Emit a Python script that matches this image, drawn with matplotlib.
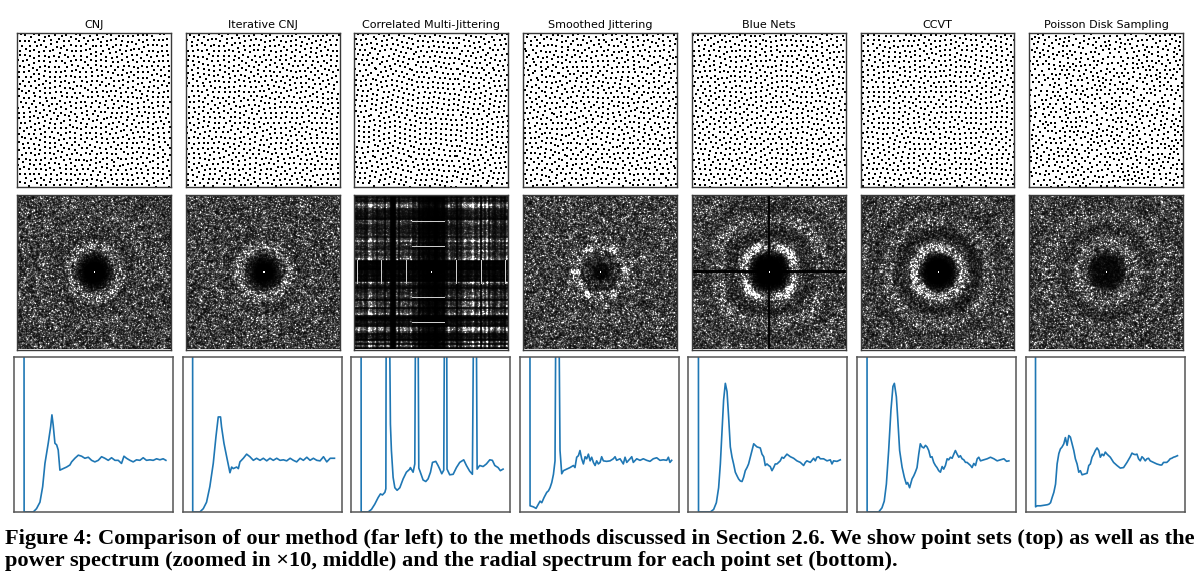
import numpy as np
import matplotlib
matplotlib.use("Agg")
import matplotlib.pyplot as plt

methods = ["CNJ", "Iterative CNJ", "Correlated Multi-Jittering", "Smoothed Jittering",
           "Blue Nets", "CCVT", "Poisson Disk Sampling"]

# radial spectra (radial frequency 0..100, power; first point is the DC spike)
cnj_freq = [0, 0.6, 7.0, 9.3, 11.7, 13.6, 15.2, 17.5, 19.2, 20.1, 21.0, 22.2, 23.4, 24.5, 25.7, 28.0,
            30.4, 32.7, 33.9, 36.2, 38.6, 40.9, 43.2, 45.6, 47.9, 50.2, 52.6, 54.9, 57.2, 59.6, 61.9,
            64.3, 66.6, 68.9, 70.6, 72.4, 74.8, 77.1, 79.4, 81.8, 84.1, 86.4, 88.8, 91.1, 93.5, 95.8,
            98.1, 100]
cnj_power = [30, 0, 0, 0.065, 0.19, 0.49, 0.94, 1.33, 1.65, 1.88, 1.68, 1.33, 1.30, 1.20, 0.81, 0.84,
             0.87, 0.91, 0.97, 1.04, 1.10, 1.08, 1.04, 1.06, 1.00, 0.97, 1.00, 1.07, 1.04, 1.00, 1.05,
             1.00, 1.00, 0.94, 1.08, 1.04, 1.00, 0.97, 1.01, 1.00, 1.05, 1.00, 1.01, 1.00, 1.03, 1.01,
             1.03, 1.00]

icnj_freq = [0, 0.6, 5.6, 8.0, 10.3, 12.6, 15.0, 16.9, 18.5, 20.1, 20.8, 22.5, 24.4, 26.7, 27.9, 29.0,
             31.4, 32.6, 33.7, 36.1, 38.4, 40.7, 43.1, 45.4, 47.8, 50.1, 52.5, 54.8, 57.1, 59.5, 61.8,
             64.2, 66.5, 68.9, 71.2, 73.5, 75.9, 78.2, 80.6, 82.9, 85.2, 87.6, 89.9, 92.3, 94.6, 97.0, 100]
icnj_power = [30, 0, 0, 0.065, 0.19, 0.49, 0.94, 1.46, 1.84, 1.84, 1.65, 1.33, 1.07, 0.76, 0.87, 0.84,
              0.87, 0.84, 0.97, 1.04, 1.12, 1.07, 1.00, 1.04, 1.00, 1.04, 0.99, 1.04, 1.00, 1.04, 1.00,
              1.01, 0.99, 1.04, 1.00, 0.97, 1.04, 1.00, 1.06, 1.00, 1.04, 1.00, 0.99, 1.07, 0.97, 1.04, 1.04]

cmj_freq = [0, 0.5, 5.4, 7.7, 10.0, 12.4, 14.0, 15.4, 17.1, 17.8, 18.2, 19.6, 20.3, 21.0, 21.7, 22.9,
            24.1, 25.7, 27.6, 29.9, 32.2, 34.6, 35.0, 36.9, 38.1, 39.0, 40.0, 40.9, 41.6, 43.9, 45.8,
            47.4, 49.1, 50.5, 52.8, 54.4, 55.6, 57.0, 58.4, 59.3, 60.3, 60.7, 62.6, 65.0, 67.3, 69.6,
            72.4, 74.3, 76.6, 78.5, 79.9, 80.8, 81.8, 83.6, 86.0, 88.3, 90.7, 92.5, 94.2, 96.5, 98.1, 100]
cmj_power = [30, 0, 0, 0.05, 0.15, 0.28, 0.35, 0.33, 0.38, 0.45, 6, 6, 4, 1.7, 1.19, 0.67,
             0.47, 0.42, 0.47, 0.64, 0.77, 0.83, 0.86, 0.77, 0.93, 6, 6, 0.85, 0.80, 0.62, 0.59,
             0.64, 0.77, 0.96, 0.98, 0.90, 0.83, 0.74, 0.81, 6, 6, 0.83, 0.72, 0.73, 0.86, 0.96,
             1.01, 0.90, 0.79, 0.73, 6, 6, 0.83, 0.90, 0.88, 0.93, 1.01, 1.00, 0.90, 0.86, 0.80, 0.83]

sj_freq = [0, 0.7, 3.0, 4.9, 6.5, 7.7, 8.9, 10.5, 12.4, 13.6, 14.7, 15.9, 17.1, 18.2, 19.2, 20.3,
           21.7, 22.9, 24.1, 26.4, 28.7, 31.1, 32.2, 33.4, 34.6, 35.7, 36.9, 38.1, 39.3, 40.4, 41.6,
           42.8, 43.9, 45.1, 46.3, 47.4, 48.6, 49.8, 50.9, 52.1, 54.4, 56.8, 59.1, 60.3, 61.4, 63.8,
           66.1, 67.3, 68.5, 70.8, 72.0, 73.1, 75.5, 77.8, 80.1, 82.5, 84.8, 87.1, 89.5, 91.8, 94.2,
           96.5, 97.7, 98.8, 100]
sj_power = [30, 0.12, 0.10, 0.07, 0.15, 0.21, 0.18, 0.28, 0.38, 0.41, 0.47, 0.57, 0.73, 0.99, 6, 6,
            1.19, 0.74, 0.80, 0.83, 0.86, 0.90, 0.86, 1.06, 1.09, 1.19, 1.03, 0.93, 1.07, 1.03, 1.12,
            0.99, 1.06, 0.96, 0.90, 0.99, 0.93, 0.96, 1.07, 0.99, 0.98, 0.99, 1.03, 1.07, 1.00, 1.03,
            0.93, 1.06, 0.96, 1.03, 1.07, 0.96, 1.03, 1.00, 1.03, 1.00, 0.98, 1.03, 1.05, 1.00, 1.01,
            1.00, 1.06, 0.96, 1.00]

bn_freq = [0, 0.6, 8.9, 11.2, 13.1, 14.7, 15.9, 17.1, 18.2, 19.4, 20.6, 21.7, 22.9, 24.1, 25.2, 26.4,
           27.6, 28.7, 29.9, 31.1, 32.2, 33.4, 34.6, 35.7, 36.9, 38.1, 39.3, 40.4, 41.6, 43.9, 45.1,
           46.3, 47.4, 48.6, 49.8, 50.9, 52.1, 53.3, 54.4, 55.6, 57.9, 59.1, 60.3, 62.6, 65.0, 67.3,
           69.6, 72.0, 74.3, 75.5, 76.6, 79.0, 81.3, 82.5, 83.6, 84.8, 86.0, 88.3, 90.7, 93.0, 94.2,
           95.3, 97.7, 100]
bn_power = [30, 0, 0, 0.05, 0.18, 0.47, 0.93, 1.58, 2.17, 2.49, 2.33, 1.84, 1.26, 1.06, 0.93, 0.77,
            0.70, 0.64, 0.60, 0.59, 0.67, 0.80, 0.86, 0.93, 1.06, 1.19, 1.32, 1.29, 1.26, 1.24, 1.12,
            1.07, 0.90, 0.93, 0.90, 0.88, 0.80, 0.86, 0.93, 0.93, 0.99, 1.06, 1.04, 1.12, 1.07, 1.04,
            0.99, 0.96, 0.90, 0.96, 0.99, 0.96, 1.04, 0.99, 1.06, 1.07, 1.03, 1.03, 0.99, 1.01, 0.93,
            0.99, 0.98, 1.01]

ccvt_freq = [0, 0.6, 8.7, 11.0, 12.6, 14.1, 15.7, 17.3, 18.7, 19.7, 21.1, 22.0, 23.4, 25.1, 26.7, 28.1,
             29.0, 30.4, 32.1, 33.3, 34.4, 35.6, 36.8, 37.9, 39.1, 40.3, 41.5, 42.6, 43.8, 45.0, 46.1,
             47.3, 48.5, 49.6, 50.8, 52.0, 53.2, 54.3, 55.5, 56.7, 57.8, 59.0, 60.2, 61.4, 62.5, 63.7,
             64.9, 66.0, 67.2, 68.4, 69.6, 70.7, 73.1, 74.2, 75.4, 76.6, 77.8, 78.9, 80.1, 82.4, 84.8,
             87.1, 89.5, 91.8, 94.1, 96.5, 98.4, 100]
ccvt_power = [30, 0, 0, 0.08, 0.21, 0.54, 1.19, 1.97, 2.43, 2.49, 2.23, 1.84, 1.19, 0.87, 0.67, 0.54,
              0.57, 0.47, 0.64, 0.70, 0.77, 0.86, 1.12, 1.32, 1.26, 1.24, 1.29, 1.26, 1.19, 1.06, 1.07,
              0.96, 0.90, 0.86, 0.80, 0.77, 0.88, 0.83, 0.90, 1.03, 1.01, 1.06, 1.04, 1.12, 1.19, 1.12,
              1.06, 1.09, 1.03, 1.01, 0.96, 0.96, 0.90, 0.86, 0.94, 0.90, 1.03, 1.06, 0.99, 1.01, 1.03,
              1.06, 1.03, 0.99, 1.01, 1.03, 0.98, 0.99]

pds_freq = [0, 0.5, 1.6, 4.0, 6.3, 8.6, 9.8, 11.0, 12.1, 13.3, 14.5, 15.6, 16.8, 17.9, 19.1, 20.3,
            21.4, 22.6, 23.8, 24.9, 26.1, 27.3, 28.4, 29.6, 30.8, 31.9, 33.1, 34.3, 36.6, 37.8, 38.9,
            40.1, 41.3, 42.4, 43.6, 44.8, 45.9, 47.1, 48.3, 49.4, 50.6, 52.9, 55.2, 57.6, 59.9, 62.2,
            64.6, 66.9, 68.1, 69.2, 70.4, 71.6, 72.7, 73.9, 75.1, 76.2, 77.4, 78.6, 79.7, 80.9, 83.2,
            85.5, 87.9, 89.0, 90.2, 92.5, 93.7, 94.9, 96.0, 97.2, 98.4, 100]
pds_power = [30, 0.10, 0.12, 0.12, 0.13, 0.14, 0.15, 0.18, 0.28, 0.38, 0.54, 0.93, 1.13, 1.22, 1.26, 1.32,
             1.44, 1.29, 1.48, 1.45, 1.32, 1.19, 1.03, 0.93, 0.77, 0.80, 0.72, 0.73, 0.75, 0.90, 0.93,
             1.06, 1.12, 1.19, 1.24, 1.19, 1.06, 1.12, 1.09, 1.16, 1.12, 1.06, 0.96, 0.90, 0.85, 0.86,
             0.96, 1.07, 1.14, 1.12, 1.11, 1.12, 1.03, 0.99, 1.07, 1.04, 0.99, 1.03, 1.04, 0.99, 0.96,
             0.93, 0.91, 0.91, 0.96, 0.96, 0.99, 1.03, 1.04, 1.06, 1.07, 1.09]

radial = [(cnj_freq, cnj_power), (icnj_freq, icnj_power), (cmj_freq, cmj_power), (sj_freq, sj_power),
          (bn_freq, bn_power), (ccvt_freq, ccvt_power), (pds_freq, pds_power)]

caption = ["Figure 4: Comparison of our method (far left) to the methods discussed in Section 2.6. "
           "We show point sets (top) as well as the",
           "power spectrum (zoomed in \u00d710, middle) and the radial spectrum for each point set (bottom)."]

N_SIDE = 30      # 30 x 30 samples per point set
IMG = 154        # spectrum image resolution = displayed pixels
PX_PER_FREQ = 1.27


# ---- point set textures (too dense to read point by point; generated with fixed seeds)
def relaxed(seed, iters):
    rng = np.random.default_rng(seed)
    g = (np.arange(N_SIDE) + 0.5) / N_SIDE
    X, Y = np.meshgrid(g, g)
    p = np.c_[X.ravel(), Y.ravel()] + (rng.random((N_SIDE ** 2, 2)) - 0.5) / N_SIDE
    sig = 0.7 / N_SIDE
    for _ in range(iters):
        d = p[:, None, :] - p[None, :, :]
        d -= np.round(d)
        w = np.exp(-(d ** 2).sum(-1) / (2 * sig * sig))
        p = (p + 0.3 * (d * w[..., None]).sum(1)) % 1.0
    return p


def cmj(seed):
    rng = np.random.default_rng(seed)
    m = N_SIDE
    sx = rng.permutation(m)
    sy = rng.permutation(m)
    i, j = np.meshgrid(np.arange(m), np.arange(m))
    i, j = i.ravel(), j.ravel()
    x = (i + (sy[j] + rng.random(i.size)) / m) / m
    y = (j + (sx[i] + rng.random(i.size)) / m) / m
    return np.c_[x, y]


def dart(seed, rmin=0.0265):
    rng = np.random.default_rng(seed)
    pts = np.empty((0, 2))
    while len(pts) < N_SIDE ** 2:
        c = rng.random(2)
        if len(pts):
            d = pts - c
            d -= np.round(d)
            if ((d ** 2).sum(1) < rmin * rmin).any():
                continue
        pts = np.vstack([pts, c])
    return pts


point_sets = [relaxed(1, 12), relaxed(2, 20), cmj(3), relaxed(4, 6),
              relaxed(5, 16), relaxed(6, 30), dart(7)]


# ---- spectrum images: speckle shaped by the radial spectrum read above
c = np.arange(IMG) - IMG // 2          # pixel offsets from the centre
FX, FY = np.meshgrid(c, c)
R = np.hypot(FX, FY)
TH = np.arctan2(FY, FX)
KERNEL = np.array([0.12, 0.76, 0.12])


def soften(img):
    img = np.apply_along_axis(lambda r: np.convolve(r, KERNEL, "same"), 1, img)
    return np.apply_along_axis(lambda r: np.convolve(r, KERNEL, "same"), 0, img)


def profile(k, radius, cap=None):
    f = np.array(radial[k][0][1:])
    p = np.array(radial[k][1][1:])
    if cap is not None:
        p = np.minimum(p, cap)
    return np.interp(radius / PX_PER_FREQ, f, p)


def spectrum(k, rng):
    speck = rng.exponential(1.0, (IMG, IMG))
    name = methods[k]
    if name == "Correlated Multi-Jittering":
        a = np.minimum(np.repeat(rng.exponential(1.0, IMG // 2 + 1), 2)[:IMG], 3.0)
        b = np.minimum(np.repeat(rng.exponential(1.0, IMG // 2 + 1), 2)[:IMG], 3.0)
        img = 0.75 * np.outer(b, a) * (0.4 + 0.6 * speck)
        img[np.abs(FX) < 14] *= 0.08
        img[np.abs(FY) < 10] *= 0.08
        img = soften(img)
        for off in (-50, -25, 25, 50):
            img[(FY == off) & (FX > -20) & (FX < 14)] = 2.9
        for off in (-74, -50, -25, 25, 50, 74):
            img[(FX == off) & (np.abs(FY) < 12)] = 2.9
    elif name == "Smoothed Jittering":
        prof = profile(k, R, cap=1.15)
        a = 12.6
        for u in range(-4, 5):
            for v in range(-4, 5):
                px, py = u * a + v * a / 2, v * a * np.sqrt(3) / 2
                rr = np.hypot(px, py)
                if rr < 5 or rr > 35:
                    continue
                amp = 2.4 if abs(rr - 25.2) < 1 else (1.2 if abs(rr - 21.8) < 1 else 0.7)
                prof = prof + amp * np.exp(-((FX - px) ** 2 + (FY - py) ** 2) / (2 * 3.0 ** 2))
        img = soften(prof * speck)
    elif name == "Blue Nets":
        reff = (np.abs(FX) ** 2.6 + np.abs(FY) ** 2.6) ** (1 / 2.6)
        prof = profile(k, reff)
        boost = 0.5 + 1.6 * np.sin(2 * TH) ** 2
        prof = np.where(prof > 1, 1 + (prof - 1) * boost, prof)
        img = soften(prof * speck)
        img[(FY == 0) | (FY == -1)] *= 0.05
        img[:, (c == 0) | (c == -1)] *= 0.05
    else:
        img = soften(profile(k, R) * speck)
    img[IMG // 2, IMG // 2] = 10
    return img


rng = np.random.default_rng(11)
spectra = [spectrum(k, rng) for k in range(len(methods))]

# ---- figure
fig = plt.figure(figsize=(12, 5.81), dpi=100)
W, H = 1200.0, 581.0


def frame(ax, color, lw):
    ax.set_xticks([])
    ax.set_yticks([])
    for s in ax.spines.values():
        s.set_color(color)
        s.set_linewidth(lw)


for k, name in enumerate(methods):
    # point set
    ax = fig.add_axes([(17 + k * 168.7) / W, (H - 187) / H, 154 / W, 154 / H])
    pts = point_sets[k]
    ax.scatter(pts[:, 0], pts[:, 1], s=1.3, marker="s", c="k", linewidths=0)
    ax.set_xlim(0, 1)
    ax.set_ylim(0, 1)
    frame(ax, "#3a3a3a", 1.0)
    ax.set_title(name, fontsize=8.0, pad=3.5, family="DejaVu Sans")

    # power spectrum
    ax = fig.add_axes([(17 + k * 168.7) / W, (H - 349.5) / H, 154 / W, 154 / H])
    ax.imshow(spectra[k], cmap="gray", vmin=0, vmax=3.6, interpolation="nearest", aspect="auto")
    frame(ax, "#3a3a3a", 1.0)

    # radial spectrum
    ax = fig.add_axes([(14 + k * 168.6) / W, (H - 512) / H, 159 / W, 155 / H])
    f, p = radial[k]
    ax.plot(f, p, color="#1f77b4", lw=1.2)
    ax.set_xlim(-6.5, 105)
    ax.set_ylim(0, 3)
    frame(ax, "#555555", 1.1)

t1 = fig.text(5 / W, (H - 544) / H, caption[0], family="Liberation Serif", weight="bold",
              fontsize=13, va="baseline", ha="left")
t2 = fig.text(5 / W, (H - 566) / H, caption[1], family="Liberation Serif", weight="bold",
              fontsize=13, va="baseline", ha="left")
fig.canvas.draw()
fs = 13 * 1178 / t1.get_window_extent().width
t1.set_fontsize(fs)
t2.set_fontsize(fs)

fig.savefig("out.png", dpi=100)
